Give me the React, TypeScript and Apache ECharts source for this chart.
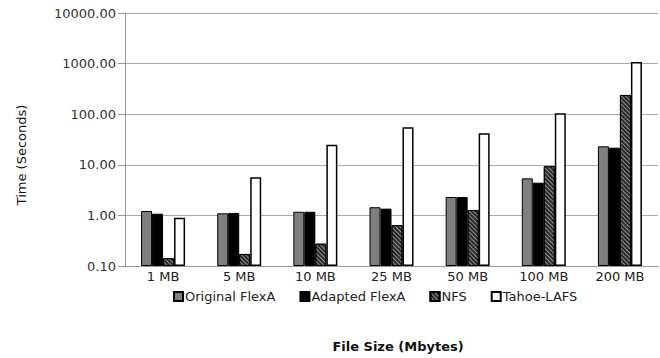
import React, { useEffect, useRef } from "react";
import * as echarts from "echarts";

const categories = ["1 MB", "5 MB", "10 MB", "25 MB", "50 MB", "100 MB", "200 MB"];
const originalFlexA = [1.22, 1.1, 1.18, 1.45, 2.31, 5.4, 23.2];
const adaptedFlexA = [1.08, 1.12, 1.18, 1.36, 2.31, 4.43, 21.8];
const nfs = [0.142, 0.173, 0.276, 0.64, 1.28, 9.35, 240];
const tahoeLafs = [0.9, 5.66, 24.9, 55, 41.8, 105, 1075];
const seriesNames = ["Original FlexA", "Adapted FlexA", "NFS", "Tahoe-LAFS"];
const yMin = 0.1;
const yMax = 10000;

const FONT = "DejaVu Sans";

export default function App() {
  const ref = useRef<HTMLDivElement>(null);
  useEffect(() => {
    if (!ref.current) return;
    const chart = echarts.init(ref.current, undefined, { renderer: "svg" });
    const values = [originalFlexA, adaptedFlexA, nfs, tahoeLafs];
    const styles: any[] = [
      { color: "#7f7f7f", borderColor: "#000", borderWidth: 1 },
      { color: "#000", borderColor: "#000", borderWidth: 1 },
      {
        color: "#2a2a2a",
        borderColor: "#000",
        borderWidth: 1,
        decal: {
          symbol: "rect",
          color: "#8c8c8c",
          backgroundColor: "#222",
          dashArrayX: [1, 0],
          dashArrayY: [1, 2],
          rotation: Math.PI / 4,
          symbolSize: 1,
        },
      },
      { color: "#fff", borderColor: "#000", borderWidth: 1.5 },
    ];
    const series: any[] = [];
    values.forEach((vals, i) => {
      // invisible base so that each visible bar starts at the axis bottom (0.1) on the log scale
      series.push({
        type: "bar",
        name: "base" + i,
        stack: "s" + i,
        barWidth: 11,
        barGap: "0%",
        silent: true,
        data: categories.map(() => yMin),
        itemStyle: { color: "rgba(0,0,0,0)", borderWidth: 0 },
      });
      series.push({
        type: "bar",
        name: seriesNames[i],
        stack: "s" + i,
        barWidth: 11,
        barGap: "0%",
        data: vals.map((v) => v - yMin),
        itemStyle: styles[i],
      });
    });
    chart.setOption({
      animation: false,
      backgroundColor: "#ffffff",
      textStyle: { fontFamily: FONT },
      grid: { left: 125, right: 2, top: 13, bottom: 92 },
      legend: {
        data: seriesNames,
        left: 168,
        top: 285,
        itemWidth: 9,
        itemHeight: 9,
        itemGap: 24,
        icon: "rect",
        textStyle: { fontFamily: FONT, fontSize: 13, color: "#222", padding: [0, 0, 0, -3] },
      },
      xAxis: {
        type: "category",
        data: categories,
        axisTick: { show: false },
        axisLine: { lineStyle: { color: "#999", width: 1 } },
        axisLabel: { fontFamily: FONT, fontSize: 13, color: "#222", margin: 4 },
      },
      yAxis: {
        type: "log",
        logBase: 10,
        min: yMin,
        max: yMax,
        axisLine: { show: true, lineStyle: { color: "#999" } },
        axisTick: { show: true, length: 7, lineStyle: { color: "#999" } },
        splitLine: { lineStyle: { color: "#aaa", width: 1 } },
        axisLabel: {
          fontFamily: FONT,
          fontSize: 13,
          color: "#333",
          margin: 9,
          formatter: (v: number) => v.toFixed(2),
        },
      },
      graphic: [
        {
          type: "text",
          x: 21,
          y: 155,
          rotation: Math.PI / 2,
          style: {
            text: "Time (Seconds)",
            fontFamily: FONT,
            fontSize: 13,
            fill: "#111",
            align: "center",
            verticalAlign: "middle",
          },
        },
        {
          type: "text",
          x: 398,
          y: 346,
          style: {
            text: "File Size (Mbytes)",
            fontFamily: FONT,
            fontSize: 13,
            fontWeight: "bold",
            fill: "#111",
            align: "center",
            verticalAlign: "middle",
          },
        },
      ],
      series,
    });
    return () => chart.dispose();
  }, []);
  return <div ref={ref} style={{ width: 660, height: 358, position: "absolute", left: 0, top: 0 }} />;
}
